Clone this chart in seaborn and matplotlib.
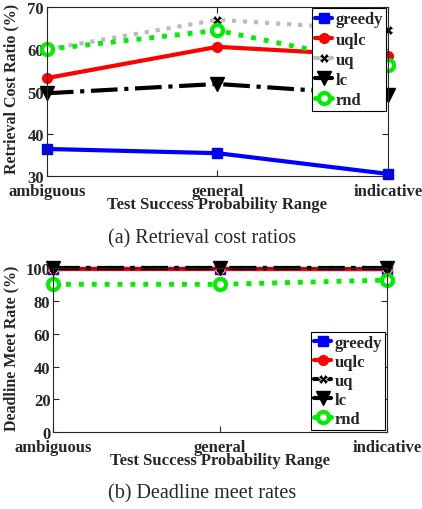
import numpy as np
import pandas as pd
import matplotlib
matplotlib.use("Agg")
import matplotlib.pyplot as plt
import seaborn as sns

# category axis
ranges = ["ambiguous", "general", "indicative"]

# (a) retrieval cost ratio (%)
cost_greedy = [36.4, 35.4, 30.5]
cost_uqlc = [53.2, 60.6, 58.4]
cost_uq = [60.0, 67.0, 64.5]
cost_lc = [49.6, 51.8, 49.1]
cost_rnd = [60.0, 64.5, 56.2]

# (b) deadline meet rate (%)
meet_greedy = [99.6, 99.6, 99.5]
meet_uqlc = [99.8, 99.8, 99.8]
meet_uq = [99.9, 99.9, 99.9]
meet_lc = [100.0, 100.0, 100.0]
meet_rnd = [90.2, 90.2, 92.8]

names = ["greedy", "uqlc", "uq", "lc", "rnd"]

sns.set_style("ticks")
plt.rcParams['font.family'] = ['Liberation Serif', 'DejaVu Serif']
plt.rcParams['font.weight'] = 'bold'
plt.rcParams['axes.labelweight'] = 'bold'

styles = {
    "greedy": dict(color="#0000ff", linestyle="-", lw=3, marker="s", ms=7, mfc="#0000ff", mec="#0000ff", mew=1),
    "uqlc": dict(color="#ff0000", linestyle="-", lw=3, marker="o", ms=7, mfc="#ff0000", mec="#ff0000", mew=1),
    "uq": dict(color="#000000", linestyle=":", lw=3, marker="X", ms=7, mfc="black", mec="white", mew=0.5),
    "lc": dict(color="black", linestyle="-.", lw=3, marker="v", ms=10, mfc="black", mec="black", mew=1),
    "rnd": dict(color="#00ee00", linestyle=":", lw=3.5, marker="o", ms=8, mfc="white", mec="#00ee00", mew=3),
}

x = np.arange(1, 4)

fig = plt.figure(figsize=(4.22, 5.10), dpi=100)
ax1 = fig.add_axes([0.111, 0.653, 0.808, 0.331])
ax2 = fig.add_axes([0.126, 0.151, 0.791, 0.321])


def draw(ax, series, uq_color):
    for name, vals in zip(names, series):
        st = dict(styles[name])
        if name == "uq":
            st["color"] = uq_color
        df = pd.DataFrame({"x": x, "y": vals})
        sns.lineplot(data=df, x="x", y="y", ax=ax, label=name, clip_on=False, **st)


draw(ax1, [cost_greedy, cost_uqlc, cost_uq, cost_lc, cost_rnd], "#bbbbbb")
draw(ax2, [meet_greedy, meet_uqlc, meet_uq, meet_lc, meet_rnd], "#000000")

for ax in (ax1, ax2):
    ax.set_xlim(1, 3)
    ax.set_xticks(x)
    ax.set_xticklabels(ranges, fontsize=12, fontweight="bold")
    ax.set_xlabel("Test Success Probability Range", fontsize=12, fontweight="bold", labelpad=-2)
    ax.tick_params(direction="in", top=True, right=True, length=4, labelsize=12, width=0.8, pad=5)
    ax.tick_params(axis="y", pad=2)
    for s in ax.spines.values():
        s.set_linewidth(0.8)
    ax.grid(False)

ax1.set_ylim(30, 70)
ax1.set_yticks([30, 40, 50, 60, 70])
ax1.set_ylabel("Retrieval Cost Ratio (%)", fontsize=11.5, fontweight="bold")
ax1.yaxis.set_label_coords(-0.08, 0.52)
ax2.set_ylim(0, 100)
ax2.set_yticks([0, 20, 40, 60, 80, 100])
ax2.set_ylabel("Deadline Meet Rate (%)", fontsize=11.5, fontweight="bold")
ax2.yaxis.set_label_coords(-0.1, 0.52)

for ax in (ax1, ax2):
    for t in ax.get_yticklabels() + ax.get_xticklabels():
        t.set_fontweight("bold")

leg1 = ax1.legend(loc="upper right", bbox_to_anchor=(0.995, 0.995), handlelength=1.0, handletextpad=0.2,
                  labelspacing=0.25, borderpad=0.2, borderaxespad=0, fancybox=False, framealpha=1,
                  edgecolor="black", prop={"size": 12, "weight": "bold"})
leg2 = ax2.legend(loc="lower right", bbox_to_anchor=(0.995, 0.01), handlelength=1.0, handletextpad=0.2,
                  labelspacing=0.18, borderpad=0.2, borderaxespad=0, fancybox=False, framealpha=1,
                  edgecolor="black", prop={"size": 12, "weight": "bold"})
for leg in (leg1, leg2):
    leg.get_frame().set_linewidth(0.8)
    for h in leg.legend_handles:
        h.set_linestyle("-")

fig.text(0.478, 0.531, "(a) Retrieval cost ratios", ha="center", va="center", fontsize=14.5, fontweight="normal")
fig.text(0.478, 0.031, "(b) Deadline meet rates", ha="center", va="center", fontsize=14.5, fontweight="normal")

fig.savefig("out.png", dpi=100)
